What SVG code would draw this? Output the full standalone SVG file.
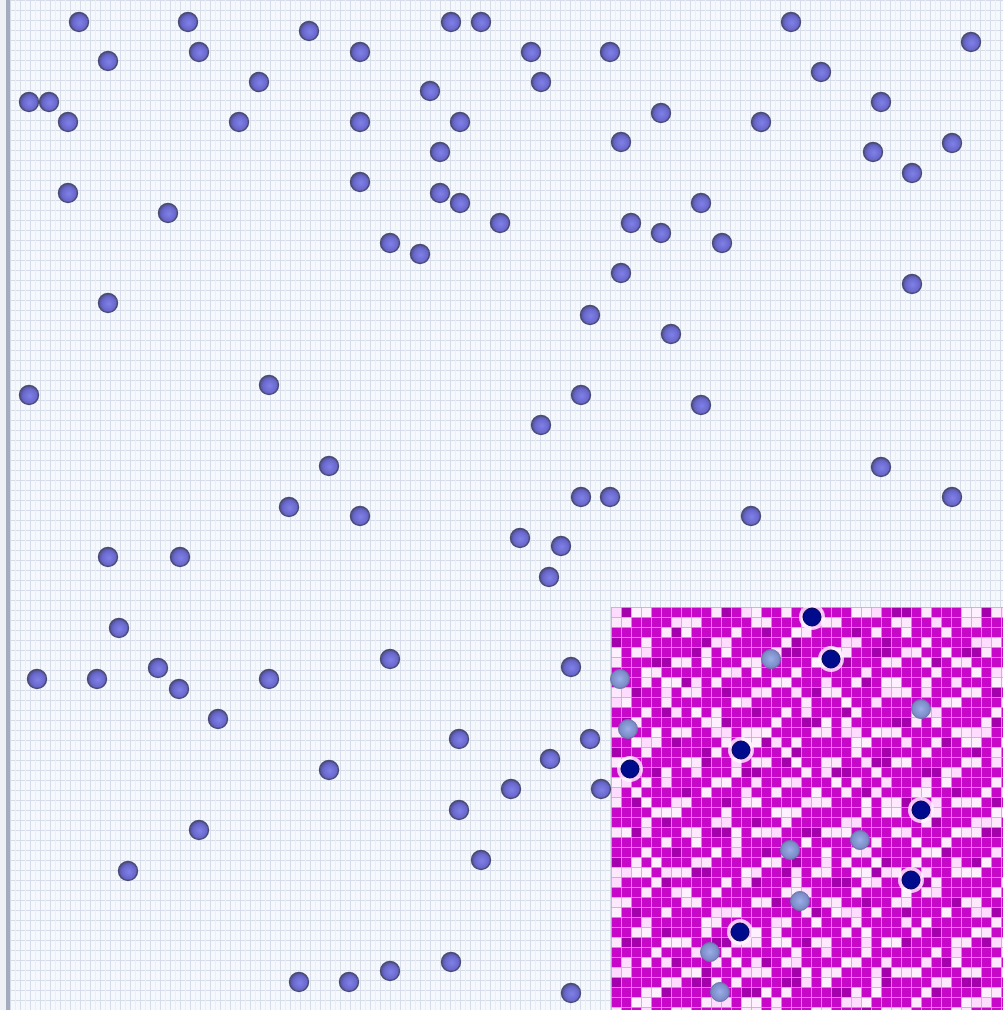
<svg xmlns="http://www.w3.org/2000/svg" width="1003" height="1010" viewBox="0 0 1003 1010">
<style>
.a{fill:url(#ga);stroke:#4a4a72;stroke-width:1.4}
.d{fill:#000a8c;stroke:#000050;stroke-width:1}
.l{fill:url(#gl);stroke:#6c78a8;stroke-width:1}
.h{fill:#fff4ff;opacity:0.8}
</style>
<defs>
<radialGradient id="ga" cx="0.55" cy="0.55" r="0.6">
<stop offset="0" stop-color="#8080e8"/><stop offset="0.6" stop-color="#6868cc"/><stop offset="1" stop-color="#484880"/>
</radialGradient>
<radialGradient id="gl" cx="0.5" cy="0.5" r="0.6">
<stop offset="0" stop-color="#9aaee8"/><stop offset="0.7" stop-color="#7c8cc8"/><stop offset="1" stop-color="#5e6a9a"/>
</radialGradient>
<pattern id="bg" x="0" y="0" width="10" height="10" patternUnits="userSpaceOnUse">
<rect width="10" height="10" fill="#f5f8fc"/>
<rect x="0" y="0" width="10" height="1" fill="#d6dde9"/>
<rect x="0" y="0" width="1" height="10" fill="#d6dde9"/>
<rect x="5" y="0" width="1" height="10" fill="#eaeef6"/>
</pattern>
<pattern id="wa" x="611" y="607" width="70" height="70" patternUnits="userSpaceOnUse">
<path d="M0 10h20v10H0zM30 0h10v10H30zM50 20h10v10H50zM20 40h10v10H20zM60 50h10v10H60zM40 60h10v10H40zM0 50h10v10H0zM30 30h10v10H30z" fill="#fde8fd"/>
</pattern>
<pattern id="wb" x="611" y="607" width="110" height="130" patternUnits="userSpaceOnUse">
<path d="M20 0h20v10H20zM70 20h10v10H70zM0 40h10v10H0zM90 50h10v10H90zM50 70h20v10H50zM10 90h10v10H10zM80 100h10v10H80zM40 120h10v10H40zM100 110h10v10H100zM30 60h10v10H30z" fill="#fff0ff"/>
</pattern>
<pattern id="wc" x="611" y="607" width="130" height="90" patternUnits="userSpaceOnUse">
<path d="M0 0h10v10H0zM60 10h10v10H60zM100 30h20v10H100zM30 40h10v10H30zM120 60h10v10H120zM80 70h10v10H80zM10 80h10v10H10zM50 80h10v10H50z" fill="#ffdcff"/>
</pattern>
<pattern id="dk" x="611" y="607" width="90" height="110" patternUnits="userSpaceOnUse">
<path d="M10 0h20v10H10zM60 20h10v10H60zM0 30h10v20H0zM40 50h20v10H40zM70 70h10v10H70zM20 80h10v10H20zM50 100h10v10H50zM80 40h10v10H80z" fill="#a400ac"/>
</pattern>
<pattern id="mg" x="611" y="607" width="10" height="10" patternUnits="userSpaceOnUse">
<rect x="0" y="0" width="10" height="1" fill="#f090f0" opacity="0.85"/>
<rect x="0" y="0" width="1" height="10" fill="#f090f0" opacity="0.85"/>
</pattern>
</defs>
<g id="background">
<rect width="1003" height="1010" fill="url(#bg)"/>
<rect x="0" y="0" width="6" height="1010" fill="#eef0f6"/>
<rect x="6" y="0" width="4" height="1010" fill="#a6aabd"/>
</g>
<g id="patch">
<rect x="611" y="607" width="392" height="403" fill="#c808c8"/>
<rect x="611" y="607" width="392" height="403" fill="url(#dk)"/>
<rect x="611" y="607" width="392" height="403" fill="url(#wa)"/>
<rect x="611" y="607" width="392" height="403" fill="url(#wb)"/>
<rect x="611" y="607" width="392" height="403" fill="url(#wc)"/>
<rect x="611" y="607" width="392" height="403" fill="url(#mg)"/>
</g>
<g id="agents">
<circle class="a" cx="79" cy="22" r="9.5"/><circle class="a" cx="188" cy="22" r="9.5"/><circle class="a" cx="309" cy="31" r="9.5"/>
<circle class="a" cx="451" cy="22" r="9.5"/><circle class="a" cx="481" cy="22" r="9.5"/><circle class="a" cx="791" cy="22" r="9.5"/>
<circle class="a" cx="971" cy="42" r="9.5"/><circle class="a" cx="108" cy="61" r="9.5"/><circle class="a" cx="199" cy="52" r="9.5"/>
<circle class="a" cx="360" cy="52" r="9.5"/><circle class="a" cx="531" cy="52" r="9.5"/><circle class="a" cx="610" cy="52" r="9.5"/>
<circle class="a" cx="821" cy="72" r="9.5"/><circle class="a" cx="259" cy="82" r="9.5"/><circle class="a" cx="541" cy="82" r="9.5"/>
<circle class="a" cx="430" cy="91" r="9.5"/><circle class="a" cx="881" cy="102" r="9.5"/><circle class="a" cx="29" cy="102" r="9.5"/>
<circle class="a" cx="49" cy="102" r="9.5"/><circle class="a" cx="68" cy="122" r="9.5"/><circle class="a" cx="239" cy="122" r="9.5"/>
<circle class="a" cx="360" cy="122" r="9.5"/><circle class="a" cx="460" cy="122" r="9.5"/><circle class="a" cx="661" cy="113" r="9.5"/>
<circle class="a" cx="761" cy="122" r="9.5"/><circle class="a" cx="440" cy="152" r="9.5"/><circle class="a" cx="621" cy="142" r="9.5"/>
<circle class="a" cx="873" cy="152" r="9.5"/><circle class="a" cx="952" cy="143" r="9.5"/><circle class="a" cx="912" cy="173" r="9.5"/>
<circle class="a" cx="68" cy="193" r="9.5"/><circle class="a" cx="168" cy="213" r="9.5"/><circle class="a" cx="360" cy="182" r="9.5"/>
<circle class="a" cx="440" cy="193" r="9.5"/><circle class="a" cx="460" cy="203" r="9.5"/><circle class="a" cx="500" cy="223" r="9.5"/>
<circle class="a" cx="701" cy="203" r="9.5"/><circle class="a" cx="631" cy="223" r="9.5"/><circle class="a" cx="661" cy="233" r="9.5"/>
<circle class="a" cx="722" cy="243" r="9.5"/><circle class="a" cx="390" cy="243" r="9.5"/><circle class="a" cx="420" cy="254" r="9.5"/>
<circle class="a" cx="621" cy="273" r="9.5"/><circle class="a" cx="912" cy="284" r="9.5"/><circle class="a" cx="108" cy="303" r="9.5"/>
<circle class="a" cx="590" cy="315" r="9.5"/><circle class="a" cx="671" cy="334" r="9.5"/>
<circle class="a" cx="29" cy="395" r="9.5"/><circle class="a" cx="269" cy="385" r="9.5"/><circle class="a" cx="581" cy="395" r="9.5"/>
<circle class="a" cx="701" cy="405" r="9.5"/><circle class="a" cx="541" cy="425" r="9.5"/>
<circle class="a" cx="329" cy="466" r="9.5"/><circle class="a" cx="881" cy="467" r="9.5"/>
<circle class="a" cx="289" cy="507" r="9.5"/><circle class="a" cx="581" cy="497" r="9.5"/><circle class="a" cx="610" cy="497" r="9.5"/>
<circle class="a" cx="360" cy="516" r="9.5"/><circle class="a" cx="751" cy="516" r="9.5"/><circle class="a" cx="952" cy="497" r="9.5"/>
<circle class="a" cx="520" cy="538" r="9.5"/><circle class="a" cx="561" cy="546" r="9.5"/><circle class="a" cx="108" cy="557" r="9.5"/>
<circle class="a" cx="180" cy="557" r="9.5"/><circle class="a" cx="549" cy="577" r="9.5"/>
<circle class="a" cx="119" cy="628" r="9.5"/>
<circle class="a" cx="390" cy="659" r="9.5"/><circle class="a" cx="158" cy="668" r="9.5"/><circle class="a" cx="571" cy="667" r="9.5"/>
<circle class="a" cx="37" cy="679" r="9.5"/><circle class="a" cx="97" cy="679" r="9.5"/><circle class="a" cx="179" cy="689" r="9.5"/>
<circle class="a" cx="269" cy="679" r="9.5"/>
<circle class="a" cx="218" cy="719" r="9.5"/>
<circle class="a" cx="459" cy="739" r="9.5"/><circle class="a" cx="590" cy="739" r="9.5"/><circle class="a" cx="550" cy="759" r="9.5"/>
<circle class="a" cx="329" cy="770" r="9.5"/><circle class="a" cx="511" cy="789" r="9.5"/><circle class="a" cx="601" cy="789" r="9.5"/>
<circle class="a" cx="459" cy="810" r="9.5"/>
<circle class="a" cx="199" cy="830" r="9.5"/><circle class="a" cx="481" cy="860" r="9.5"/><circle class="a" cx="128" cy="871" r="9.5"/>
<circle class="a" cx="451" cy="962" r="9.5"/><circle class="a" cx="390" cy="971" r="9.5"/><circle class="a" cx="299" cy="982" r="9.5"/>
<circle class="a" cx="349" cy="982" r="9.5"/><circle class="a" cx="571" cy="993" r="9.5"/>
</g>
<g id="patch-agents">
<circle class="h" cx="812" cy="617" r="13"/><circle class="h" cx="831" cy="659" r="13"/><circle class="h" cx="741" cy="750" r="13"/>
<circle class="h" cx="630" cy="769" r="13"/><circle class="h" cx="921" cy="810" r="13"/><circle class="h" cx="911" cy="880" r="13"/>
<circle class="h" cx="740" cy="932" r="13"/>
<circle class="l" cx="620" cy="679" r="9.5"/><circle class="l" cx="771" cy="659" r="9.5"/><circle class="l" cx="921" cy="709" r="9.5"/>
<circle class="l" cx="628" cy="729" r="9.5"/><circle class="l" cx="790" cy="850" r="9.5"/><circle class="l" cx="860" cy="840" r="9.5"/>
<circle class="l" cx="800" cy="901" r="9.5"/><circle class="l" cx="710" cy="952" r="9.5"/><circle class="l" cx="720" cy="992" r="9.5"/>
<circle class="d" cx="812" cy="617" r="9"/><circle class="d" cx="831" cy="659" r="9"/><circle class="d" cx="741" cy="750" r="9"/>
<circle class="d" cx="630" cy="769" r="9"/><circle class="d" cx="921" cy="810" r="9"/><circle class="d" cx="911" cy="880" r="9"/>
<circle class="d" cx="740" cy="932" r="9"/>
</g>
</svg>
